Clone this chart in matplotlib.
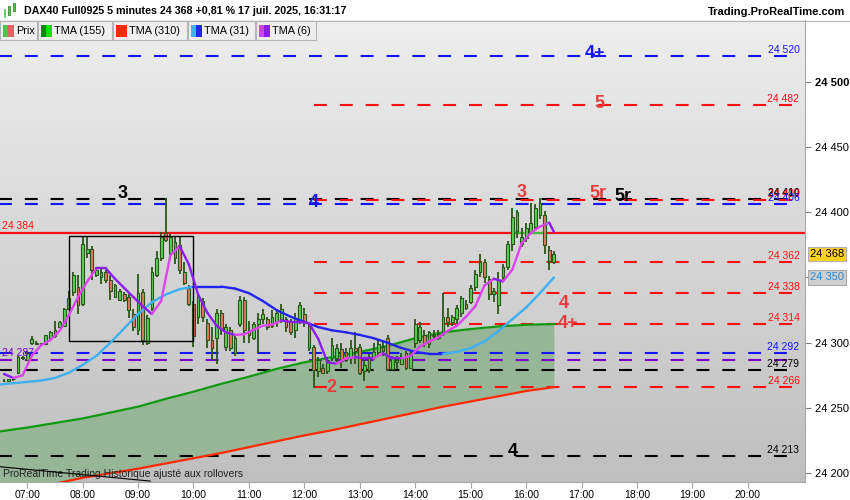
import numpy as np
import matplotlib
matplotlib.use("Agg")
import matplotlib.pyplot as plt
from matplotlib.collections import LineCollection
from matplotlib.colors import LinearSegmentedColormap
from matplotlib.patches import Rectangle

plt.rcParams['font.family'] = ['Liberation Sans', 'DejaVu Sans']

# ---- données ----
title = "DAX40 Full0925 5 minutes 24 368 +0,81 % 17 juil. 2025, 16:31:17"
site = "Trading.ProRealTime.com"
watermark = "ProRealTime Trading Historique ajusté aux rollovers"

# bougies 5 minutes, de 06:35 à 16:30
opens = [24271, 24271, 24272, 24277, 24289, 24287, 24300, 24300, 24299, 24299,
         24304, 24310, 24312, 24313, 24326, 24339, 24343, 24330, 24369, 24372,
         24352, 24354, 24354, 24348, 24335, 24333, 24337, 24335, 24322, 24310,
         24339, 24300, 24327, 24352, 24365, 24384, 24369, 24377, 24375, 24354,
         24342, 24330, 24320, 24332, 24315, 24302, 24304, 24323, 24297, 24310,
         24292, 24314, 24333, 24310, 24304, 24314, 24318, 24318, 24313, 24316,
         24318, 24318, 24316, 24310, 24316, 24322, 24313, 24297, 24278, 24281,
         24278, 24288, 24288, 24295, 24293, 24288, 24296, 24297, 24278, 24279,
         24289, 24293, 24297, 24304, 24280, 24285, 24284, 24292, 24281, 24300,
         24302, 24306, 24299, 24306, 24307, 24307, 24320, 24316, 24318, 24323,
         24330, 24331, 24343, 24354, 24362, 24349, 24337, 24329, 24350, 24358,
         24376, 24400, 24376, 24380, 24385, 24389, 24398, 24398, 24371, 24362]
highs = [24272, 24272, 24273, 24290, 24290, 24294, 24305, 24301, 24300, 24306,
         24309, 24317, 24317, 24327, 24340, 24354, 24352, 24381, 24381, 24374,
         24357, 24357, 24356, 24352, 24345, 24341, 24339, 24337, 24326, 24353,
         24341, 24321, 24358, 24370, 24385, 24411, 24383, 24381, 24381, 24362,
         24344, 24332, 24337, 24334, 24318, 24312, 24326, 24325, 24314, 24312,
         24306, 24336, 24335, 24317, 24316, 24323, 24326, 24320, 24325, 24324,
         24330, 24320, 24318, 24323, 24331, 24327, 24315, 24298, 24289, 24284,
         24289, 24304, 24299, 24300, 24296, 24302, 24308, 24299, 24287, 24291,
         24300, 24302, 24301, 24306, 24290, 24290, 24292, 24294, 24294, 24318,
         24316, 24310, 24309, 24310, 24310, 24338, 24327, 24321, 24329, 24336,
         24333, 24344, 24356, 24368, 24364, 24351, 24342, 24354, 24360, 24378,
         24403, 24402, 24388, 24392, 24407, 24406, 24411, 24401, 24374, 24370]
lows = [24270, 24270, 24271, 24276, 24287, 24286, 24298, 24299, 24298, 24299,
        24303, 24304, 24311, 24312, 24325, 24336, 24322, 24328, 24365, 24348,
        24350, 24345, 24346, 24333, 24334, 24332, 24331, 24319, 24309, 24306,
        24298, 24298, 24324, 24350, 24363, 24377, 24367, 24360, 24353, 24344,
        24328, 24297, 24314, 24316, 24296, 24287, 24284, 24306, 24294, 24294,
        24290, 24312, 24300, 24300, 24302, 24292, 24314, 24310, 24311, 24312,
        24315, 24308, 24306, 24304, 24314, 24312, 24294, 24265, 24274, 24276,
        24276, 24286, 24285, 24281, 24285, 24284, 24284, 24275, 24271, 24277,
        24287, 24290, 24290, 24278, 24279, 24280, 24283, 24279, 24280, 24296,
        24300, 24297, 24296, 24302, 24302, 24305, 24312, 24313, 24314, 24320,
        24325, 24330, 24340, 24350, 24346, 24333, 24331, 24322, 24348, 24356,
        24370, 24380, 24373, 24377, 24383, 24387, 24395, 24368, 24356, 24360]
closes = [24271, 24272, 24272, 24289, 24288, 24292, 24303, 24299, 24300, 24306,
          24308, 24305, 24316, 24326, 24334, 24352, 24329, 24376, 24372, 24356,
          24356, 24350, 24348, 24340, 24344, 24340, 24333, 24325, 24312, 24338,
          24302, 24319, 24354, 24365, 24381, 24379, 24381, 24365, 24356, 24346,
          24330, 24305, 24335, 24320, 24302, 24296, 24323, 24310, 24312, 24296,
          24304, 24333, 24310, 24306, 24314, 24318, 24322, 24312, 24320, 24323,
          24326, 24312, 24308, 24318, 24329, 24315, 24296, 24279, 24287, 24277,
          24287, 24298, 24296, 24286, 24287, 24296, 24294, 24277, 24283, 24289,
          24293, 24299, 24294, 24280, 24288, 24287, 24288, 24281, 24292, 24314,
          24312, 24300, 24308, 24305, 24304, 24320, 24316, 24320, 24327, 24334,
          24327, 24342, 24353, 24362, 24350, 24337, 24340, 24348, 24358, 24376,
          24396, 24386, 24381, 24388, 24392, 24403, 24407, 24375, 24363, 24368]

# TMA (6), une valeur toutes les deux bougies + la dernière
tma6 = [24276, 24273, 24275, 24290, 24298, 24302, 24309, 24321, 24335, 24347,
        24357, 24357, 24349, 24342, 24335, 24328, 24322, 24332, 24367, 24374,
        24360, 24337, 24323, 24313, 24308, 24306, 24306.5, 24310, 24313, 24314,
        24317, 24316, 24316, 24315, 24303, 24285, 24284, 24288, 24289, 24288,
        24288, 24292, 24288, 24288, 24290, 24297, 24301, 24304, 24309, 24313,
        24320, 24328, 24344, 24349, 24347, 24356, 24376, 24384, 24389, 24392,
        24385]

# TMA (31), toutes les 15 minutes de 06:30 à 16:30
tma31 = [24268, 24269, 24270, 24271, 24273, 24277, 24283, 24290, 24300, 24311,
         24322, 24331, 24337, 24341, 24343, 24343, 24343, 24341.5, 24338, 24332,
         24325, 24320, 24316, 24312, 24309.5, 24308, 24306, 24303.5, 24300, 24296,
         24293, 24291.5, 24291.5, 24293, 24296, 24301, 24309, 24318, 24327, 24338,
         24350]

# TMA (155) et TMA (310), toutes les 30 minutes de 06:30 à 16:30
tma155 = [24232, 24235, 24238.5, 24242, 24246.5, 24251, 24257, 24262.5, 24268.5,
          24274, 24280, 24285, 24289, 24293, 24297.5, 24303.5, 24308, 24310.5,
          24312.5, 24313.8, 24314.3]
tma310 = [24182, 24187, 24192, 24196.5, 24200, 24203.5, 24207.5, 24211.5, 24215.5,
          24220, 24224.5, 24229, 24233, 24237.5, 24242, 24246.5, 24251, 24255,
          24259, 24263, 24266]

# niveaux horizontaux
level_prices = [24520, 24482, 24410, 24409, 24406, 24362, 24338, 24314, 24292,
                24287, 24279, 24266, 24213]
level_labels = ["24 520", "24 482", "24 410", "24 409", "24 406", "24 362",
                "24 338", "24 314", "24 292", "24 287", "24 279", "24 266", "24 213"]
level_colors = ['#1414ff', '#ff1010', '#000000', '#ff1010', '#1414ff', '#ff1010',
                '#ff1010', '#ff1010', '#1414ff', '#7a00c8', '#000000', '#ff1010',
                '#000000']
level_start = [6.5, 12.17, 6.5, 12.17, 6.5, 12.17, 12.17, 12.17, 6.5, 6.5, 6.5,
               12.17, 6.5]

resistance = 24384
box_t = [7.75, 10.0]
box_p = [24301, 24382]

notes = ["4+", "5", "3", "4", "3", "5r", "5r", "4", "4+", "2", "4"]
note_t = [17.24, 17.33, 8.72, 12.17, 15.92, 17.29, 17.74, 16.67, 16.75, 12.48, 15.75]
note_p = [24522, 24483.7, 24414.7, 24407.8, 24415.5, 24414, 24411.7, 24329.8,
          24314.4, 24266, 24216.3]
note_c = ['#1414ff', '#e83c3c', '#000000', '#1414ff', '#e83c3c', '#e83c3c',
          '#000000', '#e83c3c', '#e83c3c', '#e83c3c', '#000000']

last_price = 24368
last_tma31 = 24350
hours = list(range(7, 21))
price_ticks = [24200, 24250, 24300, 24350, 24400, 24450, 24500]

# ---- figure ----
fig = plt.figure(figsize=(8.5, 5), dpi=100, facecolor='white')
ax = fig.add_axes([0, 18 / 500, 805 / 850, 462 / 500])
t0, t1 = 6.51, 21.03
p0, p1 = 24193.3, 24547.3
ax.set_xlim(t0, t1)
ax.set_ylim(p0, p1)

grad = np.linspace(0, 1, 256).reshape(-1, 1)
cmap = LinearSegmentedColormap.from_list('bg', ['#bfbfbf', '#eeeeee'])
ax.imshow(grad, extent=[t0, t1, p0, p1], origin='lower', aspect='auto',
          cmap=cmap, zorder=0)

# zone entre TMA 155 et TMA 310
t_half = 6.5 + 0.5 * np.arange(len(tma155))
ax.fill_between(t_half, tma310, tma155, color='#97b597', zorder=1, lw=0)
ax.plot(t_half, tma155, color='#119a11', lw=1.6, zorder=3)
ax.plot(t_half, tma310, color='#ff2a00', lw=1.6, zorder=3)

# niveaux
for p, lab, col, ts in zip(level_prices, level_labels, level_colors, level_start):
    ax.plot([ts, 20.9], [p, p], color=col, lw=1.5, dashes=(6.2, 6.2), zorder=2)
    if lab == "24 287":
        ax.text(6.55, p + 1.2, lab, color=col, fontsize=7.5, ha='left', va='bottom', zorder=6)
    else:
        ax.text(20.93, p + 0.8, lab, color=col, fontsize=7.5, ha='right', va='bottom',
                fontweight='bold' if lab == "24 410" else 'normal', zorder=6)

ax.axhline(resistance, color='#ff1010', lw=1.6, zorder=2)
ax.text(6.55, resistance + 1.5, "24 384", color='#ff1010', fontsize=7.5, va='bottom', zorder=6)
ax.plot([15.77, 16.33], [resistance, resistance], color='#3cc03c', lw=1.6, zorder=2.5)

ax.add_patch(Rectangle((box_t[0], box_p[0]), box_t[1] - box_t[0], box_p[1] - box_p[0],
                       fill=False, ec='black', lw=1, zorder=5))
ax.plot([6.51, 9.22], [24205, 24194], color='black', lw=0.8, zorder=5)

# bougies
t_bar = 6 + 35 / 60 + np.arange(len(closes)) * 5 / 60
o = np.array(opens)
c = np.array(closes)
wick = '#2b5516'
ax.vlines(t_bar, lows, highs, color=wick, lw=1.3, zorder=4)
ax.bar(t_bar, np.abs(c - o), bottom=np.minimum(o, c), width=0.05,
       color=np.where(c >= o, '#55d155', '#e07a66'), edgecolor=wick, lw=0.8, zorder=4.5)


def colored_line(x, y, c_up, c_dn, lw, z):
    pts = np.column_stack([x, y])
    segs = np.stack([pts[:-1], pts[1:]], axis=1)
    cols = [c_up if y[i + 1] > y[i] else c_dn for i in range(len(y) - 1)]
    ax.add_collection(LineCollection(segs, colors=cols, linewidths=lw, zorder=z,
                                     capstyle='round'))


t_q = 6.5 + 0.25 * np.arange(len(tma31))
colored_line(t_q, tma31, '#3fb0f0', '#2424f0', 1.7, 5)
idx6 = list(range(0, len(closes), 2)) + [len(closes) - 1]
colored_line(t_bar[idx6], tma6, '#dd44f0', '#8a1ef0', 1.7, 5.5)

for txt, tt, pp, col in zip(notes, note_t, note_p, note_c):
    ax.text(tt, pp, txt, color=col, fontsize=13, fontweight='bold',
            ha='center', va='center', zorder=7)

ax.text(6.56, 24195.5, watermark, fontsize=7.5, color='#222222', va='bottom', zorder=4.8)

# axes
for s in ['top', 'left']:
    ax.spines[s].set_visible(False)
for s in ['bottom', 'right']:
    ax.spines[s].set_color('#a8a8a8')
ax.set_xticks(hours)
ax.set_xticklabels([f"{h:02d}:00" for h in hours])
ax.tick_params(axis='x', length=4, color='#a8a8a8', labelsize=7.5, pad=2)
ax.yaxis.tick_right()
ax.set_yticks(price_ticks)
ax.set_yticklabels([f"{p // 1000} {p % 1000:03d}" for p in price_ticks])
ax.tick_params(axis='y', length=4, color='#808080', labelsize=8, pad=3)
for lab in ax.get_yticklabels():
    if lab.get_text() == "24 500":
        lab.set_fontweight('bold')

# étiquettes de prix courantes (masquent la graduation voisine)
xlab = 1 + 5 / 805
ax.text(xlab, last_price, "24 368", transform=ax.get_yaxis_transform(), fontsize=8,
        va='center', ha='left', zorder=20, clip_on=False,
        bbox=dict(boxstyle='square,pad=0.2', fc='#ffd21e', ec='#b0b0b0', lw=0.8))
ax.text(xlab, last_tma31, "24 350", transform=ax.get_yaxis_transform(), fontsize=8,
        color='#2a88d0', va='center', ha='left', zorder=20, clip_on=False,
        bbox=dict(boxstyle='square,pad=0.2', fc='#cfcfcf', ec='#a8a8a8', lw=0.8))
for lab in ax.get_yticklabels():
    if lab.get_text() == "24 350":
        lab.set_visible(False)

# en-tête et légende
hd = fig.add_axes([0, 0, 1, 1], zorder=10)
hd.set_xlim(0, 850)
hd.set_ylim(500, 0)
hd.axis('off')
hd.patch.set_alpha(0)
hd.add_patch(Rectangle((0, 0), 850, 20, fc='white', ec='none'))
hd.plot([0, 850], [20.5, 20.5], color='#b8b8b8', lw=0.8)
hd.add_patch(Rectangle((8, 6), 2.5, 9, fc='#4cc44c', ec='#2b7a16', lw=0.5))
hd.add_patch(Rectangle((13, 3), 2.5, 8, fc='#4cc44c', ec='#2b7a16', lw=0.5))
hd.plot([5.5, 5.5], [10, 17], color='#4cc44c', lw=1.2)
hd.text(24, 11, title, fontsize=7.7, fontweight='bold', va='center')
hd.text(845, 12, site, fontsize=8, fontweight='bold', va='center', ha='right')

legend_names = ["Prix", "TMA (155)", "TMA (310)", "TMA (31)", "TMA (6)"]
legend_x = [0, 38, 113, 188, 256]
legend_w = [37, 74, 74, 67, 60]
legend_sw = [('#4cc44c', '#e06464'), ('#0a8a0a', '#10e010'), ('#ff2a00', '#ff2a00'),
             ('#3fb0f0', '#2424f0'), ('#cc44f0', '#8a1ef0')]
for name, lx, lw_, (c1, c2) in zip(legend_names, legend_x, legend_w, legend_sw):
    hd.add_patch(Rectangle((lx, 21), lw_, 18.5, fc='#efefef', ec='#b4b4b4', lw=0.8))
    hd.add_patch(Rectangle((lx + 3, 24.5), 5.5, 12, fc=c1, ec='none'))
    hd.add_patch(Rectangle((lx + 8.5, 24.5), 5.5, 12, fc=c2, ec='none'))
    hd.text(lx + 16, 30.5, name, fontsize=7.8, va='center', ha='left')

fig.savefig("out.png", dpi=100, facecolor='white')
